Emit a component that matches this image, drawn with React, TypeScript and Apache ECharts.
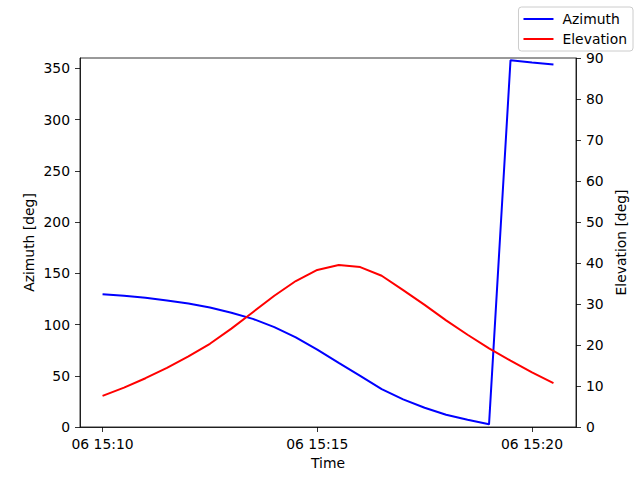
import React, { useEffect, useRef } from 'react';
import * as echarts from 'echarts';

// sample times (day 06), one every 30 s
const times = [
  '15:10:00', '15:10:30', '15:11:00', '15:11:30', '15:12:00', '15:12:30',
  '15:13:00', '15:13:30', '15:14:00', '15:14:30', '15:15:00', '15:15:30',
  '15:16:00', '15:16:30', '15:17:00', '15:17:30', '15:18:00', '15:18:30',
  '15:19:00', '15:19:30', '15:20:00', '15:20:30',
];

const azimuth = [
  129.6, 128.0, 126.0, 123.5, 120.5, 116.5, 111.5, 105.5, 97.5, 87.5, 75.5,
  62.5, 49.9, 37.0, 27.0, 18.8, 12.0, 7.0, 2.6, 357.8, 355.5, 353.6,
];

const elevation = [
  7.6, 9.6, 11.9, 14.4, 17.2, 20.3, 24.0, 28.0, 32.0, 35.6, 38.3,
  39.5, 39.0, 36.9, 33.4, 29.8, 26.0, 22.5, 19.2, 16.2, 13.3, 10.7,
];

const timeTicks = ['15:10:00', '15:15:00', '15:20:00'];
const azTicks = [0, 50, 100, 150, 200, 250, 300, 350];

const FONT = 'DejaVu Sans';
const FS = 13.9;

// seconds since 15:10:00
const toSec = (t: string) => {
  const [h, m, s] = t.split(':').map(Number);
  return (h - 15) * 3600 + (m - 10) * 60 + s;
};

const App: React.FC = () => {
  const chartRef = useRef<HTMLDivElement>(null);

  useEffect(() => {
    const chart = echarts.init(chartRef.current, null, { renderer: 'svg' });

    const xs = times.map(toSec);
    const tickSecs = timeTicks.map(toSec);

    const axisLine = { show: true, onZero: false, lineStyle: { color: '#000', width: 0.8 } };
    const axisTick = { show: true, length: 5, lineStyle: { color: '#000', width: 0.8 } };
    const labelStyle = { color: '#000', fontFamily: FONT, fontSize: FS };

    const option = {
      animation: false,
      backgroundColor: '#fff',
      textStyle: { fontFamily: FONT },
      grid: {
        left: 80, right: 64, top: 58, bottom: 53,
        show: true, borderColor: '#000', borderWidth: 0.8,
      },
      legend: {
        orient: 'vertical',
        right: 7,
        top: 7,
        icon: 'rect',
        itemWidth: 30,
        itemHeight: 2,
        itemGap: 6,
        padding: [5, 6, 5, 5],
        backgroundColor: '#fff',
        borderColor: '#ccc',
        borderWidth: 1,
        borderRadius: 3,
        textStyle: { ...labelStyle, padding: [0, 0, 0, 4] },
        data: ['Azimuth', 'Elevation'],
      },
      xAxis: {
        type: 'value',
        min: -31.5,
        max: 661.5,
        name: 'Time',
        nameLocation: 'middle',
        nameGap: 29,
        nameMoveOverlap: false,
        nameTextStyle: labelStyle,
        splitLine: { show: false },
        axisLine,
        axisTick: { ...axisTick, customValues: tickSecs },
        axisLabel: {
          ...labelStyle,
          margin: 10,
          customValues: tickSecs,
          formatter: (v: number) => {
            const m = 10 + Math.round(v / 60);
            return '06 15:' + String(m).padStart(2, '0');
          },
        },
      },
      yAxis: [
        {
          type: 'value',
          min: 0,
          max: 360,
          position: 'left',
          name: 'Azimuth [deg]',
          nameLocation: 'middle',
          nameRotate: 90,
          nameGap: 44,
          nameMoveOverlap: false,
          nameTextStyle: labelStyle,
          splitLine: { show: false },
          axisLine,
          axisTick: { ...axisTick, customValues: azTicks },
          axisLabel: { ...labelStyle, margin: 10, customValues: azTicks },
        },
        {
          type: 'value',
          min: 0,
          max: 90,
          interval: 10,
          position: 'right',
          name: 'Elevation [deg]',
          nameLocation: 'middle',
          nameRotate: 90,
          nameGap: 38,
          nameMoveOverlap: false,
          nameTextStyle: labelStyle,
          splitLine: { show: false },
          axisLine,
          axisTick,
          axisLabel: { ...labelStyle, margin: 10 },
        },
      ],
      series: [
        {
          name: 'Azimuth',
          type: 'line',
          yAxisIndex: 0,
          symbol: 'none',
          color: '#0000ff',
          lineStyle: { color: '#0000ff', width: 2 },
          data: xs.map((x, i) => [x, azimuth[i]]),
        },
        {
          name: 'Elevation',
          type: 'line',
          yAxisIndex: 1,
          symbol: 'none',
          color: '#ff0000',
          lineStyle: { color: '#ff0000', width: 2 },
          data: xs.map((x, i) => [x, elevation[i]]),
        },
      ],
    };

    chart.setOption(option);

    return () => {
      chart.dispose();
    };
  }, []);

  return (
    <div
      ref={chartRef}
      style={{ position: 'fixed', left: 0, top: 0, width: '640px', height: '480px' }}
    />
  );
};

export default App;
